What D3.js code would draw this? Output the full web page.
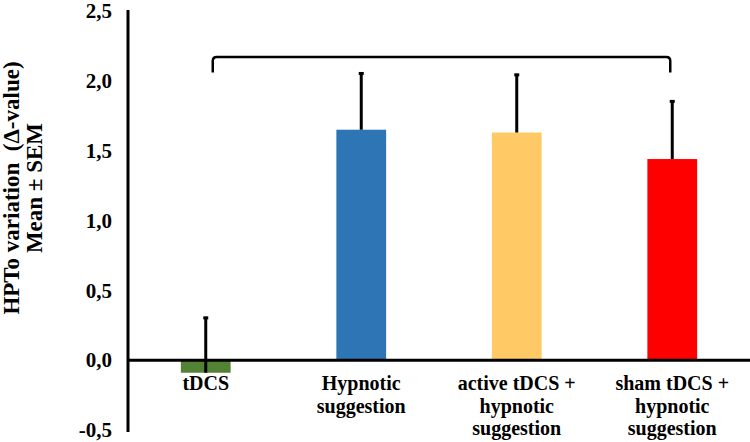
<!DOCTYPE html>
<html>
<head>
<meta charset="utf-8">
<script src="https://cdn.jsdelivr.net/npm/d3@7"></script>
<style>
  body { margin: 0; background: #fff; }
  text { font-family: "Liberation Serif", "Times New Roman", serif; font-weight: bold; fill: #000; }
</style>
</head>
<body>
<svg width="750" height="442"></svg>
<script>
const categories = [
    ['tDCS'],
    ['Hypnotic', 'suggestion'],
    ['active tDCS +', 'hypnotic', 'suggestion'],
    ['sham tDCS +', 'hypnotic', 'suggestion']
];
const means = [-0.09, 1.65, 1.63, 1.44];
const sems = [0.40, 0.41, 0.42, 0.42];
const colors = ['#548235', '#2E75B6', '#FFCA65', '#FF0000'];
const yTicks = [-0.5, 0, 0.5, 1, 1.5, 2, 2.5];

const svg = d3.select('svg');
const mLeft = 128, mRight = 750, mTop = 11, mBottom = 430;

const keys = categories.map(c => c.join(' '));

const x = d3.scaleBand()
    .domain(keys)
    .range([mLeft, mRight])
    .padding(0);

const y = d3.scaleLinear()
    .domain([-0.5, 2.5])
    .range([mBottom, mTop]);

const barW = x.bandwidth() * 0.32;
const cx = i => x(keys[i]) + x.bandwidth() / 2;

// bars
svg.append('g')
    .selectAll('rect')
    .data(means)
    .join('rect')
    .attr('x', (d, i) => cx(i) - barW / 2)
    .attr('y', d => y(Math.max(d, 0)))
    .attr('width', barW)
    .attr('height', d => Math.abs(y(d) - y(0)))
    .attr('fill', (d, i) => colors[i]);

// axes
const yAxis = svg.append('g')
    .attr('transform', `translate(${mLeft},0)`)
    .call(d3.axisLeft(y).tickValues(yTicks).tickSize(0).tickPadding(16)
        .tickFormat(d => d3.format('.1f')(d).replace('.', ',').replace('−', '-')));
yAxis.select('.domain').attr('stroke', '#000').attr('stroke-width', 3)
    .attr('d', `M0,${y(-0.5) + 2}V${y(2.5) - 1}`);
yAxis.selectAll('.tick text').attr('font-size', 21).attr('font-family', null);

svg.append('line')
    .attr('x1', mLeft).attr('x2', mRight)
    .attr('y1', y(0)).attr('y2', y(0))
    .attr('stroke', '#000').attr('stroke-width', 3);

// error bars (upper only)
const err = svg.append('g').attr('stroke', '#000');
err.selectAll('line.e')
    .data(means)
    .join('line')
    .attr('class', 'e')
    .attr('x1', (d, i) => cx(i)).attr('x2', (d, i) => cx(i))
    .attr('y1', d => y(d)).attr('y2', (d, i) => y(d + sems[i]))
    .attr('stroke-width', 3);
err.selectAll('line.c')
    .data(means)
    .join('line')
    .attr('class', 'c')
    .attr('x1', (d, i) => cx(i) - 2.5).attr('x2', (d, i) => cx(i) + 2.5)
    .attr('y1', (d, i) => y(d + sems[i]) + 1).attr('y2', (d, i) => y(d + sems[i]) + 1)
    .attr('stroke-width', 3);

// bracket
const bx1 = cx(0) + 7, bx2 = cx(3) - 2;
const by = y(2.17), byEnd = y(2.06);
svg.append('path')
    .attr('d', `M${bx1},${byEnd}V${by + 4}Q${bx1},${by} ${bx1 + 4},${by}H${bx2 - 4}Q${bx2},${by} ${bx2},${by + 4}V${byEnd}`)
    .attr('fill', 'none')
    .attr('stroke', '#000')
    .attr('stroke-width', 2.5);

// category labels
const lab = svg.append('g');
categories.forEach((lines, i) => {
    const t = lab.append('text')
        .attr('x', cx(i))
        .attr('y', 390)
        .attr('text-anchor', 'middle')
        .attr('font-size', 20);
    lines.forEach((l, j) => {
        t.append('tspan').attr('x', cx(i)).attr('dy', j ? 22.5 : 0).text(l);
    });
});

// y title
const title = svg.append('text')
    .attr('transform', 'translate(1,188) rotate(-90)')
    .attr('text-anchor', 'middle')
    .attr('font-size', 23);
title.append('tspan').attr('x', 0).attr('y', 18).text('HPTo variation\u00A0 (\u0394-value)');
title.append('tspan').attr('x', 0).attr('y', 41).text('Mean \u00B1 SEM');
</script>
</body>
</html>
